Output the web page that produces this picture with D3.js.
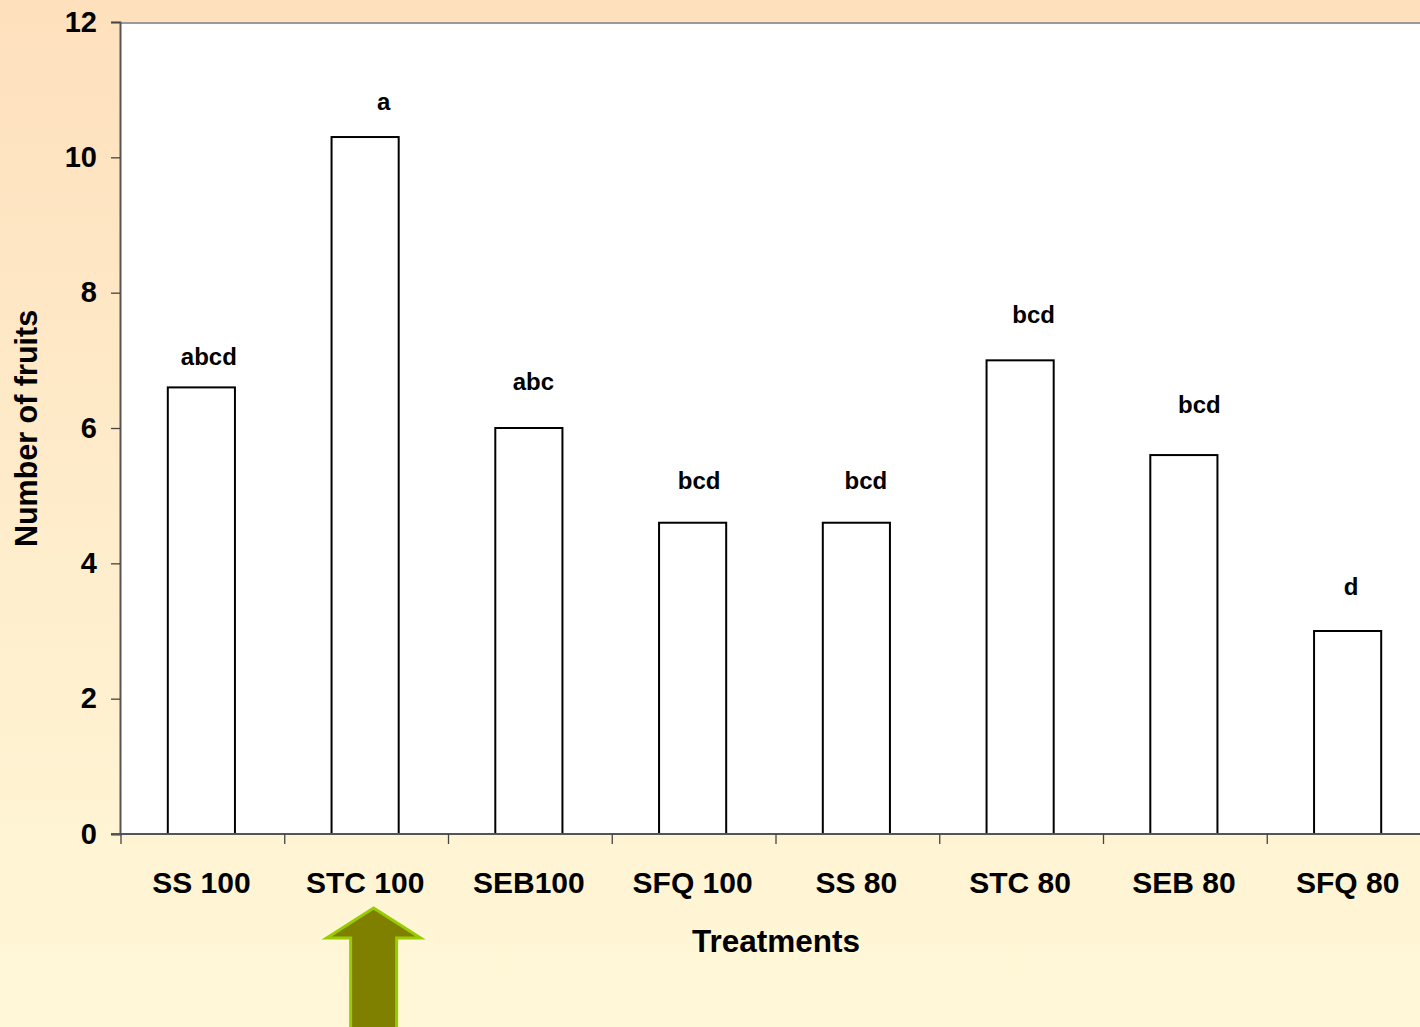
<!DOCTYPE html>
<html><head><meta charset="utf-8">
<script src="https://cdn.jsdelivr.net/npm/d3@7"></script>
<style>html,body{margin:0;padding:0;overflow:hidden;}svg{display:block;}</style>
</head><body>
<script>
const categories = ["SS 100","STC 100","SEB100","SFQ 100","SS 80","STC 80","SEB 80","SFQ 80"];
const values = [6.6, 10.3, 6.0, 4.6, 4.6, 7.0, 5.6, 3.0];
const letters = ["abcd","a","abc","bcd","bcd","bcd","bcd","d"];
const letterLevels = [7.05, 10.82, 6.69, 5.22, 5.22, 7.68, 6.34, 3.66];
const yTicks = [0,2,4,6,8,10,12];

const W = 1420, H = 1027;
const svg = d3.select("body").append("svg").attr("width", W).attr("height", H);
const defs = svg.append("defs");
const grad = defs.append("linearGradient").attr("id","bg").attr("x1",0).attr("y1",0).attr("x2",0).attr("y2",1);
grad.append("stop").attr("offset","0%").attr("stop-color","#FEE0BD");
grad.append("stop").attr("offset","100%").attr("stop-color","#FFF8D8");
svg.append("rect").attr("width",W).attr("height",H).attr("fill","url(#bg)");

const mLeft = 120, mRight = 1431, mTop = 22, mBottom = 834;
const x = d3.scaleBand().domain(categories).range([mLeft+1, mRight]).padding(0);
const y = d3.scaleLinear().domain([0,12]).range([mBottom, mTop]);
const font = "'Liberation Sans', Arial, sans-serif";

// plot area
svg.append("rect").attr("x",mLeft).attr("y",mTop).attr("width",mRight-mLeft).attr("height",mBottom-mTop).attr("fill","#fff");
svg.append("line").attr("x1",mLeft).attr("x2",W).attr("y1",mTop+1).attr("y2",mTop+1).attr("stroke","#9a9a9a").attr("stroke-width",2);

// bars
const bw = x.bandwidth()*0.41;
svg.selectAll("rect.bar").data(values).join("rect").attr("class","bar")
  .attr("x",(d,i)=>x(categories[i])+x.bandwidth()/2-bw/2-1.5)
  .attr("y",d=>y(d)).attr("width",bw).attr("height",d=>y(0)-y(d))
  .attr("fill","#fff").attr("stroke","#000").attr("stroke-width",2);

// letters
const letterShift = [6,17,3,5,8,12,14,2];
svg.selectAll("text.lt").data(letters).join("text").attr("class","lt")
  .attr("x",(d,i)=>x(categories[i])+x.bandwidth()/2+letterShift[i])
  .attr("y",(d,i)=>y(letterLevels[i])).attr("dy","0.35em")
  .attr("text-anchor","middle").attr("font-family",font).attr("font-weight","bold").attr("font-size",24)
  .text(d=>d);

// y axis
const ya = svg.append("g").attr("transform",`translate(${mLeft},0)`)
  .call(d3.axisLeft(y).tickValues(yTicks).tickSize(9).tickPadding(14));
ya.select(".domain").attr("stroke","#555").attr("stroke-width",2);
ya.selectAll(".tick line").attr("stroke","#444").attr("stroke-width",1.3);
ya.selectAll(".tick text").attr("font-family",font).attr("font-weight","bold").attr("font-size",29).attr("fill","#000");

// x axis
svg.append("line").attr("x1",mLeft-9).attr("x2",W).attr("y1",mBottom).attr("y2",mBottom).attr("stroke","#555").attr("stroke-width",2);
const bounds = categories.map(c=>x(c));
svg.selectAll("line.xt").data(bounds).join("line").attr("class","xt")
  .attr("x1",d=>d).attr("x2",d=>d).attr("y1",mBottom).attr("y2",mBottom+10)
  .attr("stroke","#444").attr("stroke-width",1.3);
svg.selectAll("text.xl").data(categories).join("text").attr("class","xl")
  .attr("x",d=>x(d)+x.bandwidth()/2-1.5).attr("y",882).attr("dy","0.35em")
  .attr("text-anchor","middle").attr("font-family",font).attr("font-weight","bold").attr("font-size",30)
  .text(d=>d);

// titles
svg.append("text").attr("x",776).attr("y",941).attr("dy","0.35em").attr("text-anchor","middle")
  .attr("font-family",font).attr("font-weight","bold").attr("font-size",31.5).text("Treatments");
svg.append("text").attr("transform","translate(26,428.5) rotate(-90)").attr("dy","0.35em").attr("text-anchor","middle")
  .attr("font-family",font).attr("font-weight","bold").attr("font-size",30.5).text("Number of fruits");

// arrow
const ax = x("STC 100")+x.bandwidth()/2+7;
svg.append("path")
  .attr("d",`M${ax},908 L${ax+47},938 L${ax+23},938 L${ax+23},1040 L${ax-23},1040 L${ax-23},938 L${ax-47},938 Z`)
  .attr("fill","#808000").attr("stroke","#99CC00").attr("stroke-width",3);
</script>
</body></html>
